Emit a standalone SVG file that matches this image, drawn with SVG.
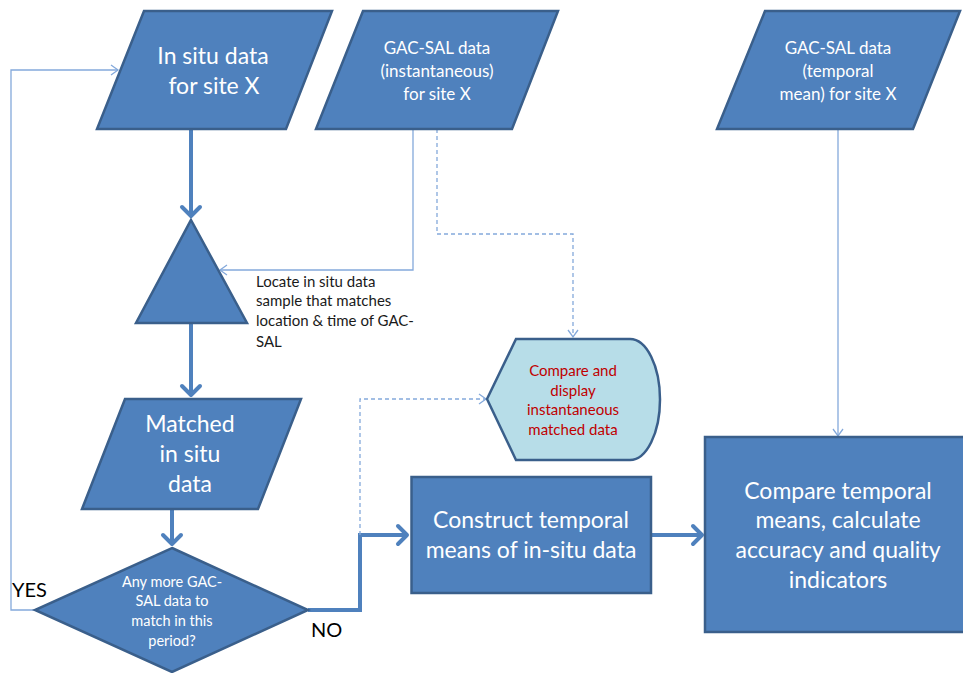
<svg xmlns="http://www.w3.org/2000/svg" width="963" height="673" viewBox="0 0 963 673">
<defs>
<style>
.shape{fill:#4F81BD;stroke:#3A5F8B;stroke-width:2.5;stroke-linejoin:miter}
.disp{fill:#B7DDE8;stroke:#3A5F8B;stroke-width:2.5}
.thick{fill:none;stroke:#4F81BD;stroke-width:4;marker-end:url(#ah)}
.thin{fill:none;stroke:#84A9DB;stroke-width:1.3;marker-end:url(#at)}
.dash{fill:none;stroke:#84A9DB;stroke-width:1.3;stroke-dasharray:4 3;marker-end:url(#at)}
text{font-family:Lato,"Open Sans","Liberation Sans",sans-serif;text-anchor:middle}
.w21{fill:#FFFFFF;font-size:23px}
.w22{fill:#FFFFFF;font-size:23px}
.w16{fill:#FFFFFF;font-size:17px}
.w14{fill:#FFFFFF;font-size:14.5px}
.red{fill:#C00000;font-size:15px}
.blk{fill:#1A1A1A;font-size:15px;text-anchor:start}
.lbl{fill:#000000;font-size:20px;text-anchor:start}
</style>
<marker id="ah" markerUnits="userSpaceOnUse" markerWidth="24" markerHeight="24" viewBox="-12 -12 24 24" refX="0" refY="0" orient="auto" overflow="visible">
<path d="M-9,-9 L0,0 L-9,9" fill="none" stroke="#4F81BD" stroke-width="4" stroke-linecap="round" stroke-linejoin="round"/>
</marker>
<marker id="at" markerUnits="userSpaceOnUse" markerWidth="16" markerHeight="16" viewBox="-8 -8 16 16" refX="0" refY="0" orient="auto" overflow="visible">
<path d="M-7,-5 L0,0 L-7,5" fill="none" stroke="#84A9DB" stroke-width="1.3"/>
</marker>
</defs>
<rect width="963" height="673" fill="#FFFFFF"/>

<g id="connectors">
<line class="thick" x1="191" y1="130" x2="191" y2="216"/>
<line class="thick" x1="191" y1="324" x2="191" y2="395"/>
<line class="thick" x1="172" y1="510" x2="172" y2="544"/>
<polyline class="thin" points="35,610 11,610 11,70 118,70"/>
<polyline class="thin" points="413,129 413,270 220,270"/>
<polyline class="dash" points="437,129 437,234 573,234 573,337"/>
<polyline class="thick" points="308,610 360,610 360,535 407,535"/>
<polyline class="dash" points="360,535 360,399 486,399"/>
<line class="thick" x1="651" y1="535" x2="702" y2="535"/>
<line class="thin" x1="838" y1="129" x2="838" y2="436"/>
</g>

<g id="insitu">
<polygon class="shape" points="144,11 332,11 286,129 97,129"/>
<text class="w21" x="213" y="64">In situ data</text>
<text class="w21" x="214" y="94">for site X</text>
</g>

<g id="gac-inst">
<polygon class="shape" points="363,11 558,11 512,129 316,129"/>
<text class="w16" x="437" y="54">GAC-SAL data</text>
<text class="w16" x="437" y="77">(instantaneous)</text>
<text class="w16" x="437" y="100">for site X</text>
</g>

<g id="gac-mean">
<polygon class="shape" points="765,11 960,11 913,129 717,129"/>
<text class="w16" x="838" y="54">GAC-SAL data</text>
<text class="w16" x="838" y="77">(temporal</text>
<text class="w16" x="838" y="100">mean) for site X</text>
</g>

<g id="locate">
<polygon class="shape" points="191,220 247,323 136,323"/>
<text class="blk" x="256" y="287">Locate in situ data</text>
<text class="blk" x="256" y="306">sample that matches</text>
<text class="blk" x="256" y="326">location &amp; time of GAC-</text>
<text class="blk" x="256" y="347">SAL</text>
</g>

<g id="matched">
<polygon class="shape" points="125,399 301,399 258,509 82,509"/>
<text class="w21" x="190" y="432">Matched</text>
<text class="w21" x="190" y="462">in situ</text>
<text class="w21" x="190" y="492">data</text>
</g>

<g id="decision">
<polygon class="shape" points="172,548 308,610 172,672 35,610"/>
<text class="w14" x="172" y="587">Any more GAC-</text>
<text class="w14" x="172" y="606">SAL data to</text>
<text class="w14" x="172" y="626">match in this</text>
<text class="w14" x="172" y="646">period?</text>
</g>

<g id="labels">
<text class="lbl" x="12" y="597">YES</text>
<text class="lbl" x="311" y="637">NO</text>
</g>

<g id="display">
<path class="disp" d="M487,399 L516,339 L630,339 A30,60.5 0 0 1 630,460 L516,460 Z"/>
<text class="red" x="573" y="376">Compare and</text>
<text class="red" x="573" y="396">display</text>
<text class="red" x="573" y="415">instantaneous</text>
<text class="red" x="573" y="435">matched data</text>
</g>

<g id="construct">
<rect class="shape" x="411.5" y="477" width="239.5" height="116"/>
<text class="w22" x="531" y="528">Construct temporal</text>
<text class="w22" x="531" y="558">means of in-situ data</text>
</g>

<g id="compare">
<rect class="shape" x="705" y="437" width="262" height="195"/>
<text class="w22" x="838" y="499">Compare temporal</text>
<text class="w22" x="838" y="528">means, calculate</text>
<text class="w22" x="838" y="558">accuracy and quality</text>
<text class="w22" x="838" y="588">indicators</text>
</g>
</svg>
